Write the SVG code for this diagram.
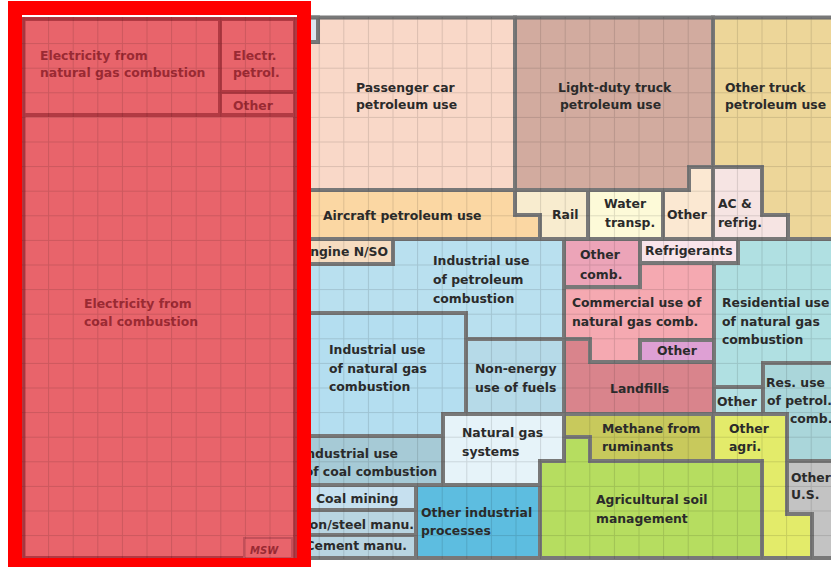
<svg xmlns="http://www.w3.org/2000/svg" width="831" height="567" viewBox="0 0 831 567">
<style>
.n{stroke:#787878;stroke-width:4;stroke-linejoin:miter}
.e{stroke:#b23a43;stroke-width:4;fill:#e8646b}
text{font-family:"DejaVu Sans",Verdana,sans-serif;font-weight:bold;font-size:12.4px;fill:#2b2b2b}
.et{fill:#9a2a33}
</style>
<defs>
<pattern id="grid" x="23.5" y="18.5" width="24.6" height="24.6" patternUnits="userSpaceOnUse">
<path d="M0 0.5H24.6M0.5 0V24.6" stroke="#000" stroke-opacity="0.12" stroke-width="1" fill="none"/>
</pattern>
</defs>
<rect width="831" height="567" fill="#fff"/>

<g id="electricity">
<g id="elec-ng"><rect class="e" x="23.5" y="19" width="196.5" height="96"/><text class="et" x="40" y="60">Electricity from</text><text class="et" x="40" y="77">natural gas combustion</text></g>
<g id="elec-petrol"><rect class="e" x="220" y="19" width="75" height="73"/><text class="et" x="233" y="60">Electr.</text><text class="et" x="233" y="77">petrol.</text></g>
<g id="elec-other"><rect class="e" x="220" y="92" width="75" height="23"/><text class="et" x="233" y="110">Other</text></g>
<g id="elec-coal"><rect class="e" x="23.5" y="115" width="271.5" height="443"/><text class="et" x="84" y="308">Electricity from</text><text class="et" x="84" y="326">coal combustion</text></g>
<g id="msw"><rect x="244" y="538" width="48" height="20" fill="#e8646b" stroke="#c4505a" stroke-width="2"/><text class="et" x="250" y="554" style="font-size:10px;font-style:italic">MSW</text></g>
</g>

<g id="transport">
<g id="passenger"><polygon class="n" fill="#f9d8c8" points="299,17.5 515,17.5 515,190 299,190"/><text x="356" y="92">Passenger car</text><text x="356" y="109">petroleum use</text></g>
<g id="small-box"><rect class="n" fill="#dde6ef" x="299" y="17.5" width="19" height="24.5"/></g>
<g id="light-duty"><polygon class="n" fill="#d2ab9f" points="515,17.5 713,17.5 713,167 689,167 689,190 515,190"/><text x="558" y="92">Light-duty truck</text><text x="560" y="109">petroleum use</text></g>
<g id="other-truck"><polygon class="n" fill="#edd699" points="713,17.5 836,17.5 836,239 788,239 788,215 762,215 762,167 713,167"/><text x="725" y="92">Other truck</text><text x="725" y="109">petroleum use</text></g>
<g id="aircraft"><polygon class="n" fill="#fbd7a3" points="299,190 515,190 515,215 540,215 540,239 299,239"/><text x="323" y="220">Aircraft petroleum use</text></g>
<g id="rail"><polygon class="n" fill="#f8eccf" points="515,190 588,190 588,239 540,239 540,215 515,215"/><text x="552" y="219">Rail</text></g>
<g id="water"><rect class="n" fill="#fdfad8" x="588" y="190" width="75" height="49"/><text x="604" y="208">Water</text><text x="605" y="227">transp.</text></g>
<g id="other-transp"><polygon class="n" fill="#fbe8d2" points="663,190 689,190 689,167 713,167 713,239 663,239"/><text x="667" y="219">Other</text></g>
<g id="ac-refrig"><polygon class="n" fill="#f6e4e3" points="713,167 762,167 762,215 788,215 788,239 713,239"/><text x="718" y="208">AC &amp;</text><text x="718" y="227">refrig.</text></g>
<g id="engine"><rect class="n" fill="#f6dcc0" x="299" y="239" width="94" height="25"/><text x="388" y="256" text-anchor="end">Engine N/SO</text></g>
</g>

<g id="industry">
<g id="ind-petrol"><polygon class="n" fill="#b9e0ef" points="393,239 564,239 564,339 466,339 466,313 299,313 299,264 393,264"/><text x="433" y="265">Industrial use</text><text x="433" y="284">of petroleum</text><text x="433" y="303">combustion</text></g>
<g id="ind-ng"><polygon class="n" fill="#b4def0" points="299,313 466,313 466,414 443,414 443,436 299,436"/><text x="329" y="354">Industrial use</text><text x="329" y="373">of natural gas</text><text x="329" y="391">combustion</text></g>
<g id="non-energy"><rect class="n" fill="#b6dae8" x="466" y="339" width="98" height="75"/><text x="475" y="373">Non-energy</text><text x="475" y="392">use of fuels</text></g>
<g id="ng-systems"><polygon class="n" fill="#e6f3f9" points="443,414 564,414 564,461 540,461 540,485 443,485"/><text x="462" y="437">Natural gas</text><text x="462" y="456">systems</text></g>
<g id="ind-coal"><rect class="n" fill="#a6cad6" x="299" y="436" width="144" height="49"/><text x="398" y="458" text-anchor="end">Industrial use</text><text x="437" y="476" text-anchor="end">of coal combustion</text></g>
<g id="coal-mining"><rect class="n" fill="#c6e0ef" x="299" y="485" width="117" height="25"/><text x="316" y="503">Coal mining</text></g>
<g id="iron-steel"><rect class="n" fill="#b9d5e1" x="299" y="510" width="117" height="25"/><text x="414" y="529" text-anchor="end">Iron/steel manu.</text></g>
<g id="cement"><rect class="n" fill="#b9d5e1" x="299" y="535" width="117" height="23"/><text x="407" y="550" text-anchor="end">Cement manu.</text></g>
<g id="other-ind"><rect class="n" fill="#5dbde0" x="416" y="485" width="124" height="73"/><text x="421" y="517">Other industrial</text><text x="421" y="535">processes</text></g>
</g>

<g id="commercial">
<g id="other-comb"><rect class="n" fill="#eca4b8" x="564" y="239" width="76" height="48"/><text x="580" y="259">Other</text><text x="580" y="279">comb.</text></g>
<g id="refrigerants"><rect class="n" fill="#f9e4ea" x="640" y="239" width="98" height="24"/><text x="645" y="255">Refrigerants</text></g>
<g id="comm-ng"><polygon class="n" fill="#f5a9b1" points="564,287 640,287 640,263 714,263 714,340 640,340 640,362 590,362 590,339 564,339"/><text x="572" y="307">Commercial use of</text><text x="572" y="326">natural gas comb.</text></g>
<g id="comm-other"><rect class="n" fill="#dea0d4" x="640" y="340" width="74" height="22"/><text x="657" y="355">Other</text></g>
<g id="landfills"><polygon class="n" fill="#d9848c" points="564,339 590,339 590,362 714,362 714,414 564,414"/><text x="610" y="393">Landfills</text></g>
</g>

<g id="residential">
<g id="res-ng"><polygon class="n" fill="#b0e0e2" points="738,239 836,239 836,363 763,363 763,387 714,387 714,263 738,263"/><text x="722" y="307">Residential use</text><text x="722" y="326">of natural gas</text><text x="722" y="344">combustion</text></g>
<g id="res-other"><rect class="n" fill="#b5e1e4" x="714" y="387" width="49" height="27"/><text x="717" y="406">Other</text></g>
<g id="res-petrol"><polygon class="n" fill="#aad6da" points="763,363 836,363 836,461 787,461 787,414 763,414"/><text x="766" y="387">Res. use</text><text x="767" y="405">of petrol.</text><text x="790" y="423">comb.</text></g>
</g>

<g id="agriculture">
<g id="methane"><polygon class="n" fill="#c8c95c" points="564,414 713,414 713,461 590,461 590,437 564,437"/><text x="602" y="433">Methane from</text><text x="602" y="451">ruminants</text></g>
<g id="ag-soil"><polygon class="n" fill="#b6dd60" points="540,461 564,461 564,437 590,437 590,461 762,461 762,558 540,558"/><text x="596" y="504">Agricultural soil</text><text x="596" y="523">management</text></g>
<g id="other-agri"><polygon class="n" fill="#e3eb6a" points="713,414 787,414 787,514 812,514 812,558 762,558 762,461 713,461"/><text x="729" y="433">Other</text><text x="729" y="451">agri.</text></g>
<g id="other-us"><polygon class="n" fill="#c3c3c3" points="787,461 836,461 836,558 812,558 812,514 787,514"/><text x="791" y="482">Other</text><text x="791" y="499">U.S.</text></g>
</g>

<rect id="grid-overlay" x="22" y="17" width="811" height="542" fill="url(#grid)" pointer-events="none"/>
<g id="connectors"/>
<rect id="highlight" x="15" y="8" width="289" height="557" fill="none" stroke="#ff0000" stroke-width="14"/>
</svg>
